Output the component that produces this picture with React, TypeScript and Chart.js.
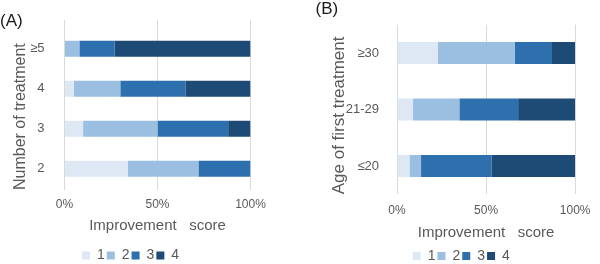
import React, { useEffect, useRef } from "react";
import { Chart, registerables } from "chart.js";

Chart.register(...registerables);
Chart.defaults.font.family = "'Liberation Sans', Arial, sans-serif";

// ---- data ----
const scoreLabels = ["1", "2", "3", "4"];
const scoreColors = ["#dde8f4", "#9bbfe1", "#2e6fae", "#1e4a76"];

// categories listed top to bottom
const treatmentCategories = ["≥5", "4", "3", "2"];
const treatmentScore1 = [0, 5, 10, 34];
const treatmentScore2 = [8, 25, 40, 38];
const treatmentScore3 = [19, 35, 38, 28];
const treatmentScore4 = [73, 35, 12, 0];

const ageCategories = ["≥30", "21-29", "≤20"];
const ageScore1 = [23, 9, 7];
const ageScore2 = [43, 26, 6.5];
const ageScore3 = [21, 33, 39.5];
const ageScore4 = [13, 32, 47];

const xTickLabels = ["0%", "50%", "100%"];
const xAxisTitle = "Improvement   score";

type PanelProps = {
  panelLabel: string;
  categories: string[];
  series: number[][];
  yTitle: string;
  yTitleSize: number;
  yMin: number;
  yMax: number;
  barPct: number;
  layoutPad: { left: number; right: number };
  titlePadBottom: number;
  yWidth: number;
  yTickPad: number;
  yTitlePadTop: number;
  xHeight: number;
  xTickPad: number;
  xTitlePadBottom: number;
  legendX: number;
  legendCY: number;
};

function Panel(p: PanelProps) {
  const ref = useRef<HTMLCanvasElement | null>(null);
  useEffect(() => {
    if (!ref.current) return;
    const n = p.categories.length;
    const legendPad = 2;
    const legendFont = 14;
    const boxSize = 8;
    const legendPlacer = {
      id: "legendPlacer",
      afterLayout(chart: any) {
        const lg = chart.legend;
        if (!lg) return;
        const h = lg.height;
        const itemH = Math.max(legendFont, boxSize);
        lg.left = p.legendX - legendPad;
        lg.right = chart.width;
        lg.top = p.legendCY - legendPad - itemH / 2;
        lg.bottom = lg.top + h;
      },
    };
    const chart = new Chart(ref.current, {
      type: "bar",
      data: {
        datasets: p.series.map((vals, i) => ({
          label: scoreLabels[i],
          data: vals.map((v, j) => ({ x: v, y: n - 1 - j })),
          backgroundColor: scoreColors[i],
          borderWidth: 0,
          barPercentage: p.barPct,
          categoryPercentage: 1,
        })),
      },
      options: {
        indexAxis: "y",
        responsive: false,
        animation: false,
        events: [],
        layout: {
          padding: { left: p.layoutPad.left, right: p.layoutPad.right, top: 0, bottom: 0 },
        },
        plugins: {
          tooltip: { enabled: false },
          title: {
            display: true,
            text: p.panelLabel,
            align: "start",
            color: "#1a1a1a",
            font: { size: 17, weight: "normal", lineHeight: 1 },
            padding: { top: 1, bottom: p.titlePadBottom },
          },
          legend: {
            position: "bottom",
            align: "start",
            maxHeight: 20,
            labels: {
              boxWidth: boxSize,
              boxHeight: boxSize,
              padding: legendPad,
              color: "#595959",
              font: { size: legendFont },
            },
          },
        },
        scales: {
          x: {
            stacked: true,
            min: 0,
            max: 100,
            ticks: {
              stepSize: 50,
              color: "#595959",
              font: { size: 12 },
              padding: p.xTickPad,
              callback: (_v: any, i: number) => xTickLabels[i],
            },
            grid: { color: "#d9d9d9", drawTicks: false },
            border: { display: false },
            title: {
              display: true,
              text: xAxisTitle,
              color: "#595959",
              font: { size: 15 },
              padding: { top: 0, bottom: p.xTitlePadBottom },
            },
            afterFit: (s: any) => {
              s.height = p.xHeight;
            },
          },
          y: {
            type: "linear",
            offset: false,
            stacked: true,
            min: p.yMin,
            max: p.yMax,
            grid: { display: false, offset: false },
            border: { display: false },
            afterBuildTicks: (s: any) => {
              s.ticks = p.categories.map((_c, i) => ({ value: i }));
            },
            ticks: {
              color: "#595959",
              font: { size: 13 },
              padding: p.yTickPad,
              callback: (v: any) => p.categories[n - 1 - Math.round(v)] ?? "",
            },
            title: {
              display: true,
              text: p.yTitle,
              align: "start",
              color: "#595959",
              font: { size: p.yTitleSize },
              padding: { top: p.yTitlePadTop, bottom: 0 },
            },
            afterFit: (s: any) => {
              s.width = p.yWidth;
            },
          },
        },
      } as any,
      plugins: [legendPlacer],
    });
    return () => chart.destroy();
  }, []);
  return (
    <div style={{ width: 300, height: 264 }}>
      <canvas ref={ref} width={300} height={264} style={{ display: "block" }} />
    </div>
  );
}

export default function App() {
  useEffect(() => {
    document.body.style.margin = "0";
  }, []);
  return (
    <div style={{ display: "flex", width: 600, height: 264, background: "#fff" }}>
      <Panel
        panelLabel="(A)"
        categories={treatmentCategories}
        series={[treatmentScore1, treatmentScore2, treatmentScore3, treatmentScore4]}
        yTitle="Number of treatment"
        yTitleSize={16}
        yMin={-0.53}
        yMax={3.725}
        barPct={0.4}
        layoutPad={{ left: 0, right: 49.5 }}
        titlePadBottom={-10}
        yWidth={64.5}
        yTickPad={12}
        yTitlePadTop={11.4}
        xHeight={54}
        xTickPad={7}
        xTitlePadBottom={9}
        legendX={82}
        legendCY={255.5}
      />
      <Panel
        panelLabel="(B)"
        categories={ageCategories}
        series={[ageScore1, ageScore2, ageScore3, ageScore4]}
        yTitle="Age of first treatment"
        yTitleSize={17}
        yMin={-0.5}
        yMax={2.5}
        barPct={0.39}
        layoutPad={{ left: 15.5, right: 18.3 }}
        titlePadBottom={6.7}
        yWidth={81.5}
        yTickPad={10}
        yTitlePadTop={13.4}
        xHeight={49.7}
        xTickPad={9.5}
        xTitlePadBottom={2.5}
        legendX={112.7}
        legendCY={256}
      />
    </div>
  );
}
